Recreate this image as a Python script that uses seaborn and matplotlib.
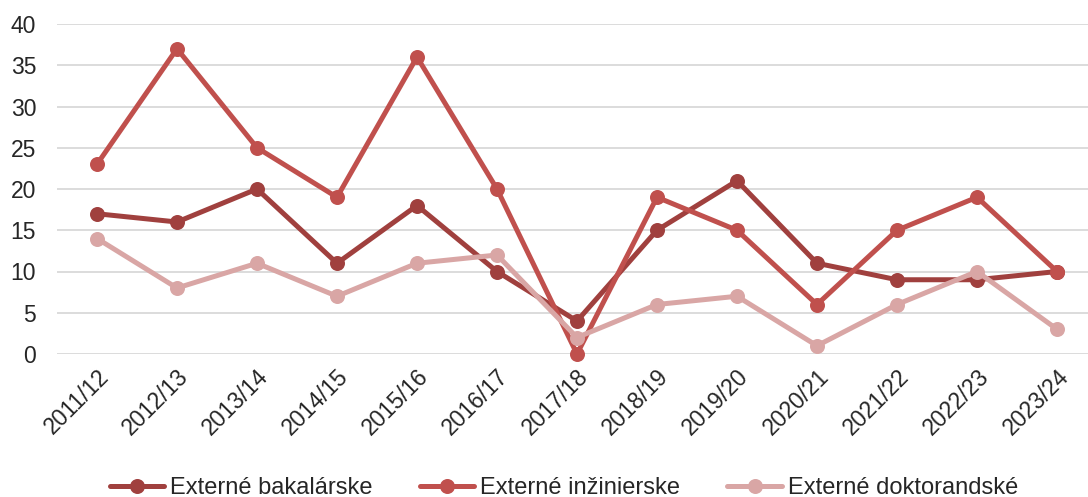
import matplotlib
matplotlib.use("Agg")
import matplotlib.pyplot as plt
import seaborn as sns
import pandas as pd

years = ["2011/12", "2012/13", "2013/14", "2014/15", "2015/16", "2016/17", "2017/18",
         "2018/19", "2019/20", "2020/21", "2021/22", "2022/23", "2023/24"]
bakalarske = [17, 16, 20, 11, 18, 10, 4, 15, 21, 11, 9, 9, 10]
inzinierske = [23, 37, 25, 19, 36, 20, 0, 19, 15, 6, 15, 19, 10]
doktorandske = [14, 8, 11, 7, 11, 12, 2, 6, 7, 1, 6, 10, 3]
series_names = ["Externé bakalárske", "Externé inžinierske", "Externé doktorandské"]
colors = ["#A0403E", "#C0504D", "#D9A6A5"]

rows = []
for name, vals in zip(series_names, [bakalarske, inzinierske, doktorandske]):
    for i, (y, v) in enumerate(zip(years, vals)):
        rows.append({"idx": i, "year": y, "value": v, "series": name})
df = pd.DataFrame(rows)

sns.set_theme(style="white")
plt.rcParams['font.family'] = ['Liberation Sans', 'DejaVu Sans']

fig = plt.figure(figsize=(10.88, 4.97), dpi=100)
ax = fig.add_axes([57/1088, 1-354/497, 1-57/1088, 330/497])

sns.lineplot(data=df, x="idx", y="value", hue="series", hue_order=series_names,
             palette=colors, marker="o", markersize=10.8, linewidth=3.6,
             markeredgewidth=0, ax=ax, legend=True)
for ln in ax.get_lines():
    ln.set_clip_on(False)

ax.set_ylim(0, 40)
ax.set_xlim(-0.5, (1088-97)/80)
ax.set_yticks(range(0, 41, 5))
ax.yaxis.grid(True, color="#D9D9D9", linewidth=1.3)
ax.set_axisbelow(True)
for s in ax.spines.values():
    s.set_visible(False)
ax.set_xticks(range(len(years)))
ax.set_xticklabels(years, rotation=45, ha="right", rotation_mode="anchor", fontsize=16.5)
ax.tick_params(axis="y", labelsize=16.5, length=0, pad=15)
ax.tick_params(axis="x", length=0, pad=8)
ax.set_xlabel("")
ax.set_ylabel("")
ax.get_legend().remove()

handles, labels = ax.get_legend_handles_labels()
fig.legend(handles, labels, loc="center", bbox_to_anchor=(0.5 + 20/1088, 1-488/497), ncol=3,
           frameon=False, fontsize=17, handlelength=2.3, columnspacing=2.0,
           handletextpad=0.25, borderaxespad=0)

fig.savefig("out.png", dpi=100)
